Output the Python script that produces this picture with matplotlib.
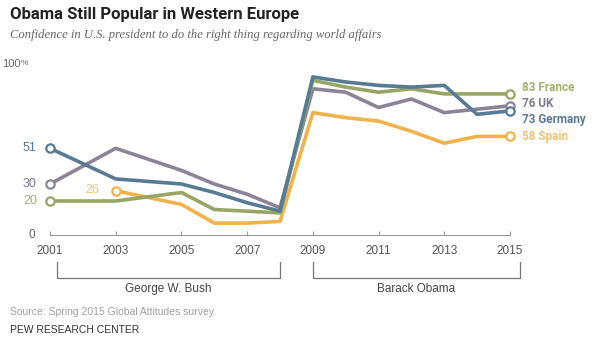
import matplotlib.pyplot as plt
import numpy as np

# confidence in U.S. president, % by country and survey year
years_bush = [2001, 2003, 2005, 2006, 2007, 2008]
years_obama = [2009, 2010, 2011, 2012, 2013, 2014, 2015]

france = [20, 20, 25, 15, 14, 13, 91, 87, 84, 86, 83, 83, 83]
uk = [30, 51, 38, 30, 24, 16, 86, 84, 75, 80, 72, 74, 76]
germany = [51, 33, 30, 25, 19, 14, 93, 90, 88, 87, 88, 71, 73]
spain_years = [2003, 2005, 2006, 2007, 2008] + years_obama
spain = [26, 18, 7, 7, 8, 72, 69, 67, 61, 54, 58, 58]

all_years = years_bush + years_obama
tick_years = [2001, 2003, 2005, 2007, 2009, 2011, 2013, 2015]

series = [
    # name, x, y, line colour, text colour, zorder
    ('Spain', spain_years, spain, '#F0B24A', '#F2C277', 2),
    ('UK', all_years, uk, '#8C8496', '#7D7A90', 3),
    ('France', all_years, france, '#97A565', '#A4AF70', 4),
    ('Germany', all_years, germany, '#587B94', '#5B7A97', 5),
]
end_offsets = {'France': 4, 'UK': 1.6, 'Germany': -5, 'Spain': 0}
start_label_x = {'Spain': 2002.5}

fig = plt.figure(figsize=(6, 3.39), dpi=100)
ax = fig.add_axes([50 / 600, 1 - 235 / 339, 460 / 600, 170 / 339])

for name, xs, ys, col, tcol, z in series:
    ax.plot(xs, ys, color=col, lw=2.6, zorder=z, solid_joinstyle='round',
            clip_on=False)
    ax.plot([xs[0], xs[-1]], [ys[0], ys[-1]], 'o', ms=6, mfc='white',
            mec=col, mew=1.6, zorder=z + 10, clip_on=False)
    # value/name at the right end
    ax.text(2015.35, ys[-1] + end_offsets[name], f'{ys[-1]} {name}',
            color=tcol, fontsize=8.5, fontweight='bold', va='center',
            ha='left', family='Roboto')
    # first value on the left
    if name in start_label_x:
        ax.text(start_label_x[name], ys[0] + 0.5, str(ys[0]), color=tcol,
                fontsize=9, va='center', ha='right', family='Liberation Sans')
    else:
        ax.text(2000.6, ys[0], str(ys[0]), color=tcol, fontsize=9,
                va='center', ha='right', family='Liberation Sans')

ax.set_xlim(2001, 2015)
ax.set_ylim(0, 100)
for s in ['top', 'right', 'left']:
    ax.spines[s].set_visible(False)
ax.spines['bottom'].set_color('#9A9A9A')
ax.spines['bottom'].set_linewidth(0.8)
ax.set_yticks([])
ax.set_xticks(tick_years)
ax.set_xticklabels([str(y) for y in tick_years], fontsize=8.5,
                   color='#555555', family='Liberation Sans')
ax.tick_params(axis='x', direction='in', length=3, color='#9A9A9A',
               pad=7)
ax.text(2000.55, 0, '0', color='#666666', fontsize=8.5, va='center',
        ha='right', family='Liberation Sans')
ax.text(2000.1, 100.5, '100', color='#666666', fontsize=8, va='center',
        ha='right', family='Liberation Sans')
ax.text(2000.12, 100.8, '%', color='#666666', fontsize=6, va='center',
        ha='left', family='Liberation Sans')

# presidency brackets below the axis
brackets = [(2001.2, 2008.0, 'George W. Bush'),
            (2009.0, 2015.3, 'Barack Obama')]
for x0, x1, label in brackets:
    ax.plot([x0, x0, x1, x1], [-16, -25.5, -25.5, -16], color='#777777',
            lw=0.9, clip_on=False)
    ax.text((x0 + x1) / 2, -31.5, label, ha='center', va='center',
            fontsize=8.5, color='#444444', family='Liberation Sans')

fig.text(10 / 600, 1 - 15 / 339, 'Obama Still Popular in Western Europe',
         fontsize=12, fontweight='bold', color='#222222', va='center',
         family='Roboto')
fig.text(10 / 600, 1 - 35 / 339,
         'Confidence in U.S. president to do the right thing regarding world affairs',
         fontsize=9.1, style='italic', color='#666666', va='center',
         family='Liberation Serif')
fig.text(10 / 600, 1 - 312 / 339, 'Source: Spring 2015 Global Attitudes survey.',
         fontsize=7.5, color='#A0A0A0', va='center', family='Liberation Sans')
fig.text(10 / 600, 1 - 330 / 339, 'PEW RESEARCH CENTER', fontsize=7.5,
         color='#333333', va='center', family='Liberation Sans')

fig.savefig('out.png', dpi=100)
